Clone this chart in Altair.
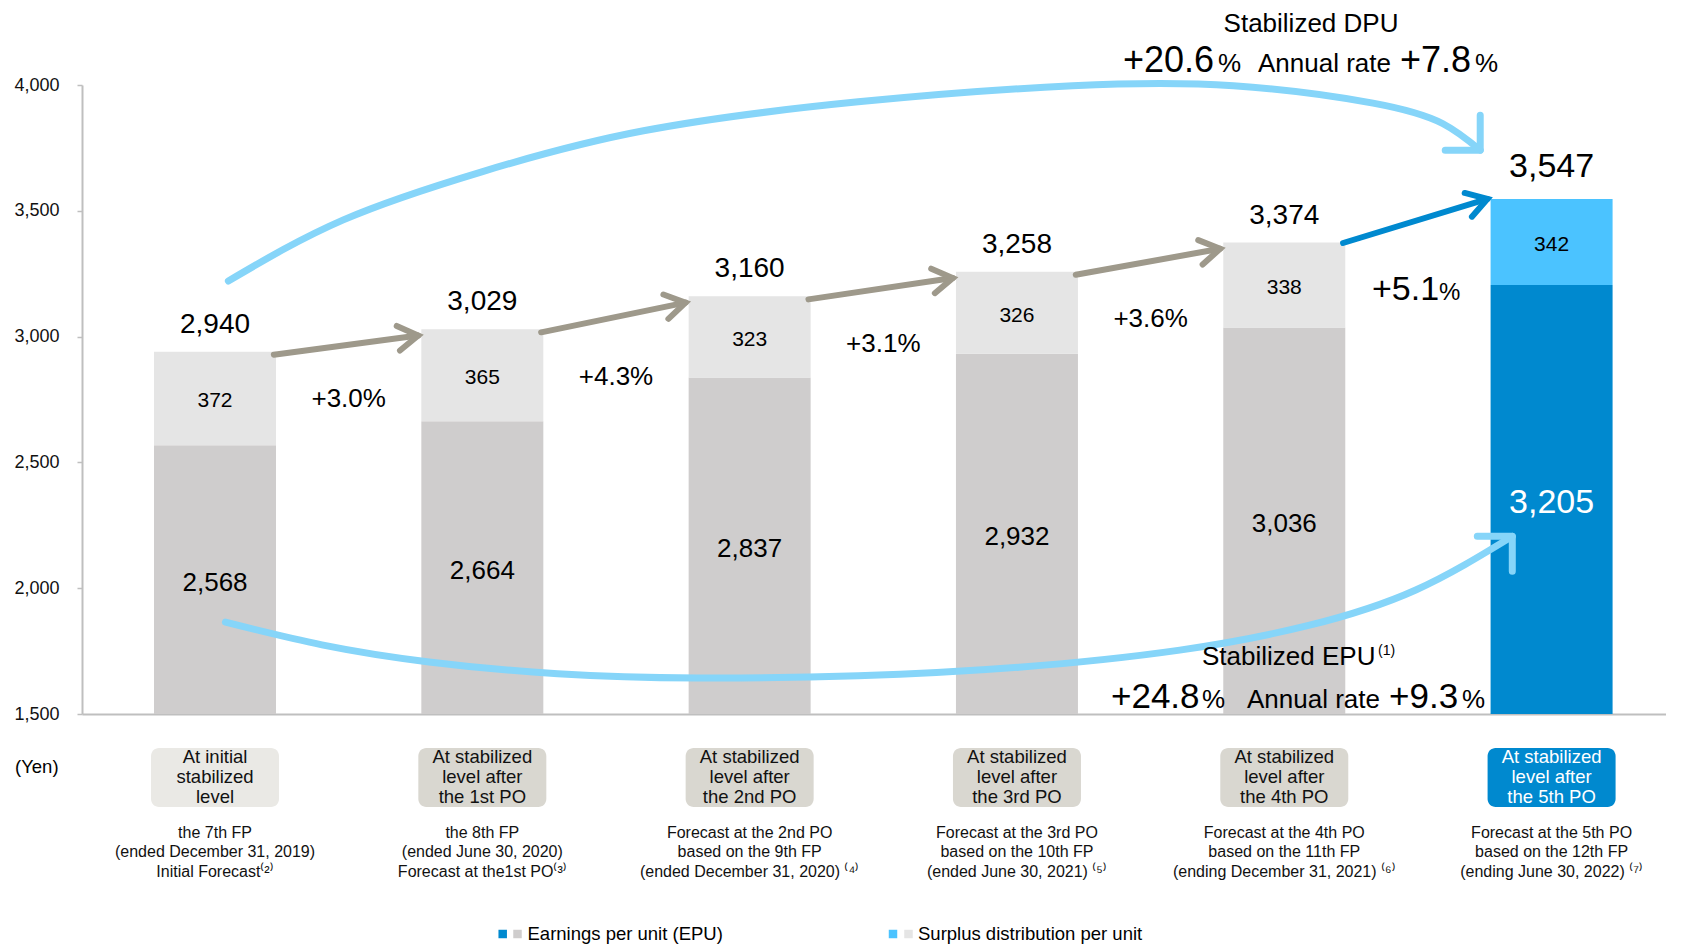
import math
import altair as alt
import pandas as pd

# ---------------- data ----------------
categories = [
    "At initial\nstabilized\nlevel",
    "At stabilized\nlevel after\nthe 1st PO",
    "At stabilized\nlevel after\nthe 2nd PO",
    "At stabilized\nlevel after\nthe 3rd PO",
    "At stabilized\nlevel after\nthe 4th PO",
    "At stabilized\nlevel after\nthe 5th PO",
]
periods = [
    "the 7th FP\n(ended December 31, 2019)\nInitial Forecast⁽²⁾",
    "the 8th FP\n(ended June 30, 2020)\nForecast at the1st PO⁽³⁾",
    "Forecast at the 2nd PO\nbased on the 9th FP\n(ended December 31, 2020) ⁽⁴⁾",
    "Forecast at the 3rd PO\nbased on the 10th FP\n(ended June 30, 2021) ⁽⁵⁾",
    "Forecast at the 4th PO\nbased on the 11th FP\n(ending December 31, 2021) ⁽⁶⁾",
    "Forecast at the 5th PO\nbased on the 12th FP\n(ending June 30, 2022) ⁽⁷⁾",
]
epu = [2568, 2664, 2837, 2932, 3036, 3205]
surplus = [372, 365, 323, 326, 338, 342]
growth = ["+3.0%", "+4.3%", "+3.1%", "+3.6%"]
last_growth = "+5.1"
y_ticks = [1500, 2000, 2500, 3000, 3500, 4000]
legend_labels = ["Earnings per unit (EPU)", "Surplus distribution per unit"]

# curved annotation arrows (x in bar-index units, y in yen)
dpu_arc_x = [0.050, 0.480, 1.001, 1.603, 2.406, 3.208, 3.810, 4.332, 4.592, 4.733]
dpu_arc_y = [3221, 3464, 3656, 3818, 3933, 3997, 3997, 3928, 3847, 3741]
epu_arc_x = [0.039, 0.400, 0.801, 1.282, 1.804, 2.406, 3.008, 3.609, 4.091, 4.492, 4.853]
epu_arc_y = [1865, 1775, 1707, 1660, 1643, 1652, 1686, 1754, 1852, 1993, 2206]

# ---------------- layout / style ----------------
FONT = "Liberation Sans"
W, H = 1584, 629
XMIN, XMAX = -0.4976, 5.428
YMIN, YMAX = 1500, 4000
PX_X = W / (XMAX - XMIN)
PX_Y = H / (YMAX - YMIN)

GREY_EPU, GREY_SUR = "#CFCDCD", "#E5E5E5"
BLUE_EPU, BLUE_SUR = "#0089CF", "#4BC3FF"
ARROW_GREY, ARC_BLUE = "#9E998B", "#86D5F9"
AXIS_GREY = "#BFBFBF"

n = len(epu)
idx = list(range(n))
total = [e + s for e, s in zip(epu, surplus)]

xs = alt.Scale(domain=[XMIN, XMAX], nice=False, zero=False, padding=0)
ys = alt.Scale(domain=[YMIN, YMAX], nice=False, zero=False, padding=0)
xaxis = alt.Axis(labels=False, ticks=False, grid=False, title=None,
                 domainColor=AXIS_GREY, domainWidth=2)
yaxis = alt.Axis(values=y_ticks, format=",d", grid=False, title=None,
                 domainColor=AXIS_GREY, domainWidth=2, tickColor=AXIS_GREY,
                 tickSize=5, tickWidth=1.5, labelFontSize=18, labelColor="#111111",
                 labelPadding=18, labelFont=FONT)


def X(f):
    return alt.X(f, type="quantitative", scale=xs, axis=xaxis)


def Y(f, **kw):
    return alt.Y(f, type="quantitative", scale=ys, axis=yaxis, **kw)


one = pd.DataFrame({"k": [0]})


def label(text, x, y, size, align="left", baseline="alphabetic", color="#000000"):
    return alt.Chart(one).mark_text(
        text=text, fontSize=size, align=align, baseline=baseline, color=color, font=FONT
    ).encode(x=alt.value(x), y=alt.value(y))


# ---------------- tables ----------------
rows = []
for i in idx:
    hl = i == n - 1
    rows.append(dict(idx=i, seg="epu", value=epu[i], order=0,
                     fill=BLUE_EPU if hl else GREY_EPU))
    rows.append(dict(idx=i, seg="surplus", value=surplus[i], order=1,
                     fill=BLUE_SUR if hl else GREY_SUR))
bars_df = pd.DataFrame(rows)

lab_df = pd.DataFrame(dict(
    idx=idx, total=total, epu=epu, surplus=surplus,
    total_txt=[f"{t:,}" for t in total],
    epu_txt=[f"{e:,}" for e in epu],
    sur_txt=[f"{s:,}" for s in surplus],
    epu_mid=[(YMIN + e) / 2 for e in epu],
    sur_mid=[e + s / 2 for e, s in zip(epu, surplus)],
    cat=categories, period=periods,
))

growth_df = pd.DataFrame(dict(
    gx=[i + 0.5 for i in range(len(growth))],
    gy=[total[i] - 188 for i in range(len(growth))],
    g=growth,
))

arc_rows = []
for k, (ax, ay) in enumerate(zip(dpu_arc_x, dpu_arc_y)):
    arc_rows.append(dict(arc="dpu", k=k, ax=ax, ay=ay))
for k, (ax, ay) in enumerate(zip(epu_arc_x, epu_arc_y)):
    arc_rows.append(dict(arc="epu", k=k, ax=ax, ay=ay))
arcs_df = pd.DataFrame(arc_rows)
heads_df = pd.DataFrame(dict(
    ax=[dpu_arc_x[-1], epu_arc_x[-1]], ay=[dpu_arc_y[-1], epu_arc_y[-1]],
    ang=[45, 315],
))

arrow_rows, head_rows = [], []
for i in range(n - 1):
    blue = i == n - 2
    x0, y0 = i + 0.22, total[i] - (2 if blue else 12)
    x1, y1 = i + 0.76, total[i + 1] - (0 if blue else 25)
    col = BLUE_EPU if blue else ARROW_GREY
    arrow_rows += [dict(a=i, k=0, ax=x0, ay=y0, col=col),
                   dict(a=i, k=1, ax=x1, ay=y1, col=col)]
    ang = math.degrees(math.atan2(-(y1 - y0) * PX_Y, (x1 - x0) * PX_X)) % 360
    head_rows.append(dict(ax=x1, ay=y1, ang=ang, col=col))
arrows_df = pd.DataFrame(arrow_rows)
aheads_df = pd.DataFrame(head_rows)

# ---------------- layers ----------------
bars = alt.Chart(bars_df).mark_bar(size=122, clip=True).encode(
    x=X("idx"),
    y=Y("value", stack="zero"),
    fill=alt.Fill("fill:N", scale=None),
    order=alt.Order("order:Q"),
)

arcs = alt.Chart(arcs_df).mark_line(
    interpolate="natural", strokeWidth=7, strokeCap="round", color=ARC_BLUE
).encode(x=X("ax"), y=Y("ay"), detail="arc:N", order="k:Q")

arc_heads = alt.Chart(heads_df).mark_point(
    shape="M -1 -1 L 0 0 L -1 1", filled=False, size=2450, strokeWidth=7,
    strokeCap="round", strokeJoin="round", color=ARC_BLUE, opacity=1
).encode(x=X("ax"), y=Y("ay"), angle=alt.Angle("ang:Q", scale=None))

arrows = alt.Chart(arrows_df).mark_line(strokeWidth=6, strokeCap="round").encode(
    x=X("ax"), y=Y("ay"), detail="a:N", order="k:Q",
    stroke=alt.Stroke("col:N", scale=None),
)
arrow_heads = alt.Chart(aheads_df).mark_point(
    shape="M -1 -0.62 L 0 0 L -1 0.62", filled=False, size=1600, strokeWidth=6,
    strokeCap="round", strokeJoin="miter", opacity=1
).encode(x=X("ax"), y=Y("ay"), angle=alt.Angle("ang:Q", scale=None),
         stroke=alt.Stroke("col:N", scale=None))

base_lab = alt.Chart(lab_df)
tot_lab = base_lab.transform_filter(f"datum.idx < {n-1}").mark_text(
    fontSize=28, dy=-27, baseline="middle", font=FONT, color="#000"
).encode(x=X("idx"), y=Y("total"), text="total_txt:N")
tot_lab_last = base_lab.transform_filter(f"datum.idx == {n-1}").mark_text(
    fontSize=34, dy=-32, baseline="middle", font=FONT, color="#000"
).encode(x=X("idx"), y=Y("total"), text="total_txt:N")
sur_lab = base_lab.mark_text(fontSize=21, dy=3, baseline="middle", font=FONT, color="#000").encode(
    x=X("idx"), y=Y("sur_mid"), text="sur_txt:N")
epu_lab = base_lab.transform_filter(f"datum.idx < {n-1}").mark_text(
    fontSize=26, dy=3, baseline="middle", font=FONT, color="#000"
).encode(x=X("idx"), y=Y("epu_mid"), text="epu_txt:N")
epu_lab_last = base_lab.transform_filter(f"datum.idx == {n-1}").mark_text(
    fontSize=34, dy=3, baseline="middle", font=FONT, color="#FFFFFF"
).encode(x=X("idx"), y=Y("epu_mid"), text="epu_txt:N")

growth_lab = alt.Chart(growth_df).mark_text(
    fontSize=26, baseline="middle", font=FONT, color="#000"
).encode(x=X("gx"), y=Y("gy"), text="g:N")

boxes = base_lab.transform_calculate(
    bfill=f"datum.idx == {n-1} ? '{BLUE_EPU}' : (datum.idx == 0 ? '#EAE9E5' : '#D9D7D0')"
).mark_bar(size=128, cornerRadius=8).encode(
    x=X("idx"), y=alt.value(663), y2=alt.value(722),
    fill=alt.Fill("bfill:N", scale=None),
)
box_txt = base_lab.transform_calculate(
    tfill=f"datum.idx == {n-1} ? '#FFFFFF' : '#111111'"
).mark_text(
    lineBreak="\n", fontSize=18.5, lineHeight=19.8, baseline="middle", font=FONT
).encode(x=X("idx"), y=alt.value(672), text="cat:N",
         fill=alt.Fill("tfill:N", scale=None))
period_txt = base_lab.mark_text(
    lineBreak="\n", fontSize=16, lineHeight=19.3, baseline="middle", font=FONT,
    color="#111111"
).encode(x=X("idx"), y=alt.value(748), text="period:N")

LEG_Y = 849
annos = [
    label("(Yen)", -67, 682, 18.5, baseline="middle"),
    # step growth to the 5th PO
    label(last_growth, 1290, 215, 34),
    label("%", 1357, 215, 24),
    # Stabilized DPU
    label("Stabilized DPU", 1229, -61, 26, align="center", baseline="middle"),
    label("+20.6", 1041, -13, 36),
    label("%", 1136, -13, 26),
    label("Annual rate", 1176, -13, 26),
    label("+7.8", 1318, -13, 36),
    label("%", 1393, -13, 26),
    # Stabilized EPU
    label("Stabilized EPU", 1120, 580, 26),
    label("(1)", 1296, 570, 14),
    label("+24.8", 1029, 623, 35),
    label("%", 1120, 623, 26),
    label("Annual rate", 1165, 623, 26),
    label("+9.3", 1307, 623, 35),
    label("%", 1380, 623, 26),
    # legend
    label(legend_labels[0], 445.5, LEG_Y, 18.5, baseline="middle"),
    label(legend_labels[1], 836, LEG_Y, 18.5, baseline="middle"),
]


def sq(x, col):
    return alt.Chart(one).mark_square(size=72, opacity=1, color=col).encode(
        x=alt.value(x), y=alt.value(LEG_Y))


legend_sq = [sq(420.7, BLUE_EPU), sq(435.5, GREY_EPU), sq(811, BLUE_SUR), sq(826.5, GREY_SUR)]

chart = alt.layer(
    bars, arcs, arc_heads, arrows, arrow_heads,
    tot_lab, tot_lab_last, sur_lab, epu_lab, epu_lab_last, growth_lab,
    boxes, box_txt, period_txt, *annos, *legend_sq,
).properties(
    width=W, height=H, autosize="none",
    padding={"left": 74, "top": 77, "right": 0, "bottom": 233},
).configure(font=FONT).configure_view(stroke=None)

chart.save("out.html", embed_options={"renderer": "svg", "actions": False})
